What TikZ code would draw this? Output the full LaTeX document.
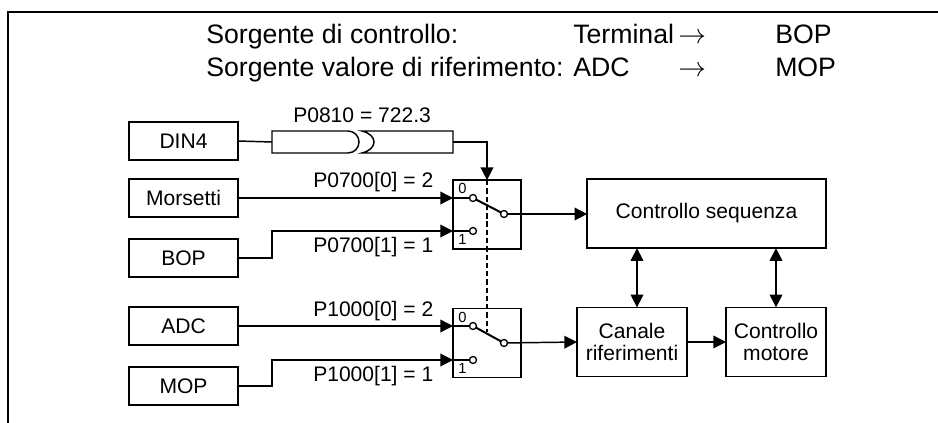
\documentclass[tikz,border=0pt]{standalone}
\usepackage{fontspec}
\setmainfont{Liberation Sans}
\usetikzlibrary{arrows.meta, positioning}

\begin{document}
\begin{tikzpicture}[
			x=0.75pt,
			y=-0.75pt,
			font=\fontsize{15.8}{16.5}\selectfont,
			block/.style={
				draw,
				rectangle,
				line width=1.1pt,
				outer sep=0pt,
				minimum width=81.75pt,
				minimum height=28.5pt,
				align=center
			},
			switchbox/.style={block, minimum width=51pt, minimum height=51.5pt},
			unit/.style={block, minimum height=52pt},
			param/.style={anchor=base west, inner sep=0pt},
			head/.style={param, font=\fontsize{20}{22}\selectfont},
			digit/.style={param, font=\fontsize{11}{12}\selectfont},
			term/.style={draw, circle, fill=white, line width=1pt, inner sep=0pt, minimum size=5.25pt, outer sep=0pt},
			wire/.style={line width=1.1pt},
			arrow/.style={wire, -{Triangle[length=9.5pt, width=9.5pt]}},
			dbl/.style={wire, {Triangle[length=9.5pt, width=9.5pt]}-{Triangle[length=9.5pt, width=9.5pt]}}
			]
			\useasboundingbox (0,0) rectangle (938,423);
			
			% -------------------------------
			% CORNICE E TITOLO
			% -------------------------------
			\draw[line width=1.5pt] (8,423) -- (8,12) -- (938,12);
			
			\node[head] (h1) at (206,44) {Sorgente di controllo:};
			\node[head] (h2) at (573,44) {Terminal};
			\node[head] (h3) at (678,44) {$\rightarrow$};
			\node[head] (h4) at (775,44) {BOP};
			\node[head] (h5) at (206,77) {Sorgente valore di riferimento:};
			\node[head] (h6) at (573,77) {ADC};
			\node[head] (h7) at (678,77) {$\rightarrow$};
			\node[head] (h8) at (775,77) {MOP};
			
			% -------------------------------
			% SORGENTI
			% -------------------------------
			\node[block] (din) at (183.5,141) {DIN4};
			\node[block, below=14.25pt of din] (mor) {Morsetti};
			\node[block, below=16.5pt of mor] (bop) {BOP};
			\node[block, below=22.5pt of bop] (adc) {ADC};
			\node[block, below=16.5pt of adc] (mop) {MOP};
			
			% -------------------------------
			% COMMUTATORI
			% -------------------------------
			\node[switchbox] (sw1) at (487,214.5) {};
			\node[switchbox] (sw2) at (487,343) {};
			
			\node[digit] (n10) at (458,194) {0};
			\node[digit] (n11) at (458,245) {1};
			\node[digit] (n20) at (458,323) {0};
			\node[digit] (n21) at (458,374) {1};
			
			% -------------------------------
			% BLOCCHI DI DESTRA
			% -------------------------------
			\node[unit, minimum width=179pt] (seq) at (706.5,213.5) {Controllo sequenza};
			\node[unit, minimum width=82.5pt] (can) at (632,342) {Canale\\riferimenti};
			\node[unit, minimum width=75pt] (mot) at (776,342) {Controllo\\motore};
			
			% -------------------------------
			% PARAMETRI
			% -------------------------------
			\node[param] (p1) at (293,123) {P0810 = 722.3};
			\node[param] (p2) at (313,188) {P0700[0] = 2};
			\node[param] (p3) at (313,253) {P0700[1] = 1};
			\node[param] (p4) at (313,317) {P1000[0] = 2};
			\node[param] (p5) at (313,382) {P1000[1] = 1};
			
			% -------------------------------
			% BINDER P0810
			% -------------------------------
			\coordinate (fin) at (272,142);
			\coordinate (fout) at (453,142);
			\coordinate (ftip) at (487,142);
			\draw[wire] (272,131) -- (348,131) arc[start angle=-90, end angle=90, x radius=11, y radius=11] -- (272,153) -- cycle;
			\draw[wire] (453,131) -- (362,131) .. controls (378,135) and (378,149) .. (362,153) -- (453,153) -- cycle;
			
			% -------------------------------
			% FLECHE
			% -------------------------------
			\coordinate (kb) at (272,258);
			\coordinate (km) at (272,386);
			\coordinate (stop) at (487,332);
			\coordinate (d1) at (637,0);
			
			\node[term] (a1) at (473,198) {};
			\node[term] (b1) at (473,231) {};
			\node[term] (o1) at (504,214) {};
			\node[term] (a2) at (473,326) {};
			\node[term] (b2) at (473,360) {};
			\node[term] (o2) at (504,343) {};
			
			\draw[wire] (din.east) -- (fin);
			\draw[arrow] (fout) -- (ftip) -- (ftip |- sw1.north);
			\draw[wire, dash pattern=on 4pt off 2.2pt] (sw1.north) -- (stop);
			
			\draw[arrow] (mor.east) -- (mor.east -| sw1.west);
			\draw[wire] (mor.east -| sw1.west) -- (a1);
			\draw[arrow] (bop.east) -- (kb) |- (b1 -| sw1.west);
			\draw[wire] (b1 -| sw1.west) -- (b1);
			\draw[arrow] (adc.east) -- (adc.east -| sw2.west);
			\draw[wire] (adc.east -| sw2.west) -- (a2);
			\draw[arrow] (mop.east) -- (km) |- (b2 -| sw2.west);
			\draw[wire] (b2 -| sw2.west) -- (b2);
			
			\draw[wire, line width=1.5pt] (a1) -- (o1);
			\draw[wire, line width=1.5pt] (a2) -- (o2);
			
			\draw[arrow] (o1) -- (o1 -| seq.west);
			\draw[arrow] (o2) -- (can.west);
			\draw[arrow] (can.east) -- (mot.west);
			
			\draw[dbl] (can.north -| d1) -- (seq.south -| d1);
			\draw[dbl] (mot.north) -- (mot.north |- seq.south);
			
		\end{tikzpicture}
\end{document}
